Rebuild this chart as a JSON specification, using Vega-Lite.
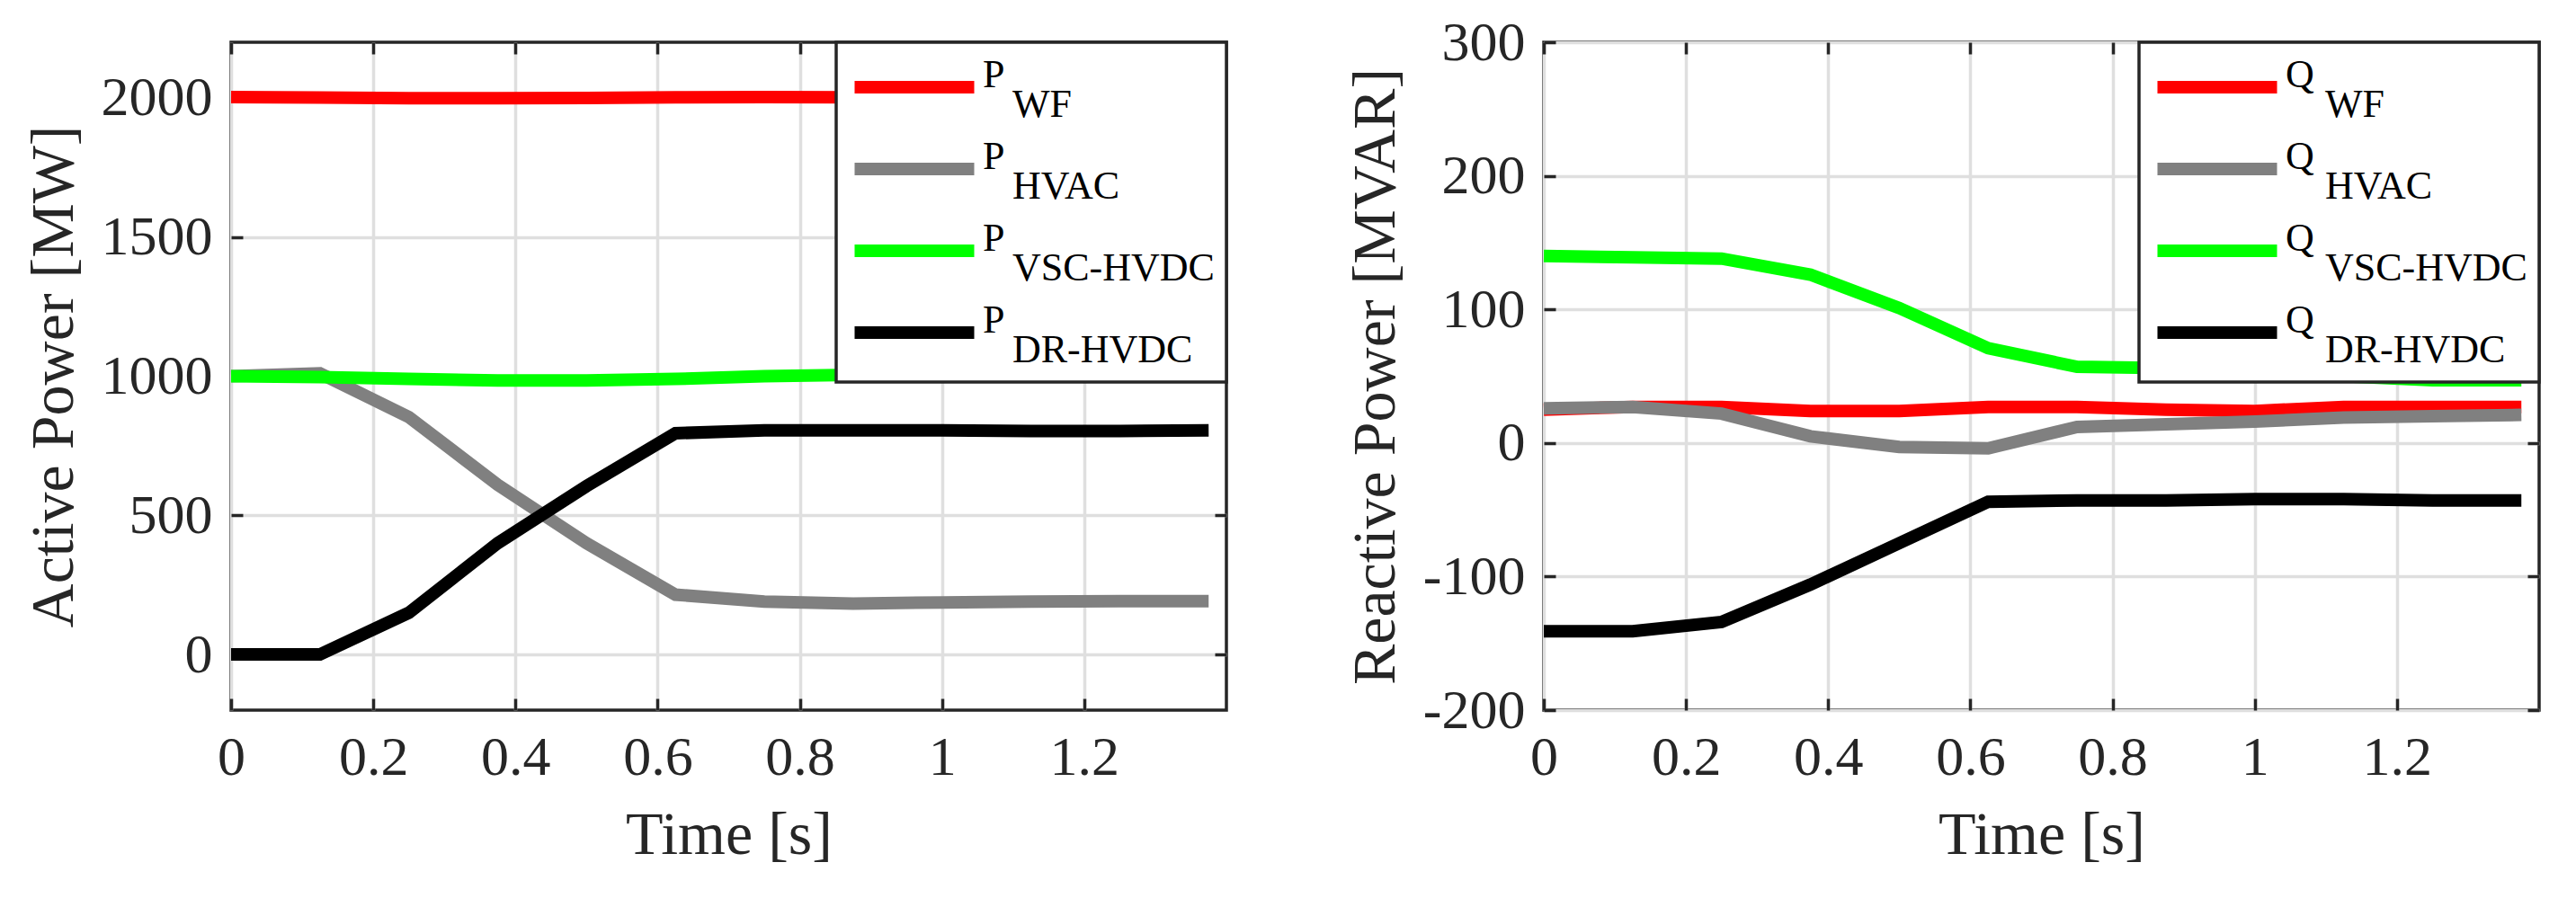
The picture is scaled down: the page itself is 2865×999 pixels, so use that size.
{
  "$schema": "https://vega.github.io/schema/vega-lite/v6.json",
  "background": "white",
  "padding": {"left": 24, "top": 14, "right": 0, "bottom": 0},
  "config": {
    "font": "Liberation Serif",
    "view": {"stroke": "#262626", "strokeWidth": 3.5},
    "axis": {
      "labelFont": "Liberation Serif",
      "labelFontSize": 62,
      "labelColor": "#262626",
      "labelFlush": false,
      "labelOverlap": false,
      "titleFont": "Liberation Serif",
      "titleFontSize": 68,
      "titleFontWeight": "normal",
      "titleColor": "#262626",
      "domain": false,
      "tickColor": "#262626",
      "tickWidth": 3.5,
      "tickSize": -13,
      "gridColor": "#dfdfdf",
      "gridWidth": 3.5,
      "gridOpacity": 1
    },
    "axisX": {"labelPadding": 35, "titlePadding": 22},
    "axisY": {"labelPadding": 34, "titlePadding": 18},
    "legend": {
      "orient": "top-right",
      "offset": 0,
      "padding": 13,
      "fillColor": "white",
      "strokeColor": "#262626",
      "strokeWidth": 3.5,
      "symbolType": "M-2.217,0H2.217",
      "symbolSize": 3600,
      "symbolStrokeWidth": 14,
      "symbolOpacity": 1,
      "symbolOffset": 37,
      "labelFont": "Liberation Serif",
      "labelFontSize": 44,
      "labelColor": "black",
      "labelOffset": 39,
      "labelLimit": 0,
      "labelBaseline": "alphabetic",
      "rowPadding": 12
    }
  },
  "datasets": {
    "active": [
      {"t": 0, "v": 2003, "s": "P_WF"},
      {"t": 0.125, "v": 2001, "s": "P_WF"},
      {"t": 0.25, "v": 1999, "s": "P_WF"},
      {"t": 0.375, "v": 1999, "s": "P_WF"},
      {"t": 0.5, "v": 2000, "s": "P_WF"},
      {"t": 0.625, "v": 2002, "s": "P_WF"},
      {"t": 0.75, "v": 2003, "s": "P_WF"},
      {"t": 0.875, "v": 2002, "s": "P_WF"},
      {"t": 1, "v": 2001, "s": "P_WF"},
      {"t": 1.125, "v": 2001, "s": "P_WF"},
      {"t": 1.25, "v": 2002, "s": "P_WF"},
      {"t": 1.375, "v": 2001, "s": "P_WF"},
      {"t": 0, "v": 1000, "s": "P_HVAC"},
      {"t": 0.125, "v": 1010, "s": "P_HVAC"},
      {"t": 0.25, "v": 853, "s": "P_HVAC"},
      {"t": 0.375, "v": 610, "s": "P_HVAC"},
      {"t": 0.5, "v": 400, "s": "P_HVAC"},
      {"t": 0.625, "v": 215, "s": "P_HVAC"},
      {"t": 0.75, "v": 190, "s": "P_HVAC"},
      {"t": 0.875, "v": 183, "s": "P_HVAC"},
      {"t": 1, "v": 187, "s": "P_HVAC"},
      {"t": 1.125, "v": 190, "s": "P_HVAC"},
      {"t": 1.25, "v": 192, "s": "P_HVAC"},
      {"t": 1.375, "v": 192, "s": "P_HVAC"},
      {"t": 0, "v": 1000, "s": "P_VSC-HVDC"},
      {"t": 0.125, "v": 997, "s": "P_VSC-HVDC"},
      {"t": 0.25, "v": 990, "s": "P_VSC-HVDC"},
      {"t": 0.375, "v": 985, "s": "P_VSC-HVDC"},
      {"t": 0.5, "v": 985, "s": "P_VSC-HVDC"},
      {"t": 0.625, "v": 990, "s": "P_VSC-HVDC"},
      {"t": 0.75, "v": 1000, "s": "P_VSC-HVDC"},
      {"t": 0.875, "v": 1005, "s": "P_VSC-HVDC"},
      {"t": 1, "v": 1008, "s": "P_VSC-HVDC"},
      {"t": 1.125, "v": 1010, "s": "P_VSC-HVDC"},
      {"t": 1.25, "v": 1010, "s": "P_VSC-HVDC"},
      {"t": 1.375, "v": 1010, "s": "P_VSC-HVDC"},
      {"t": 0, "v": 0, "s": "P_DR-HVDC"},
      {"t": 0.125, "v": 0, "s": "P_DR-HVDC"},
      {"t": 0.25, "v": 150, "s": "P_DR-HVDC"},
      {"t": 0.375, "v": 400, "s": "P_DR-HVDC"},
      {"t": 0.5, "v": 605, "s": "P_DR-HVDC"},
      {"t": 0.625, "v": 795, "s": "P_DR-HVDC"},
      {"t": 0.75, "v": 805, "s": "P_DR-HVDC"},
      {"t": 0.875, "v": 805, "s": "P_DR-HVDC"},
      {"t": 1, "v": 805, "s": "P_DR-HVDC"},
      {"t": 1.125, "v": 803, "s": "P_DR-HVDC"},
      {"t": 1.25, "v": 803, "s": "P_DR-HVDC"},
      {"t": 1.375, "v": 805, "s": "P_DR-HVDC"}
    ],
    "reactive": [
      {"t": 0, "v": 25, "s": "Q_WF"},
      {"t": 0.125, "v": 27, "s": "Q_WF"},
      {"t": 0.25, "v": 27, "s": "Q_WF"},
      {"t": 0.375, "v": 24, "s": "Q_WF"},
      {"t": 0.5, "v": 24, "s": "Q_WF"},
      {"t": 0.625, "v": 27, "s": "Q_WF"},
      {"t": 0.75, "v": 27, "s": "Q_WF"},
      {"t": 0.875, "v": 25, "s": "Q_WF"},
      {"t": 1, "v": 24, "s": "Q_WF"},
      {"t": 1.125, "v": 27, "s": "Q_WF"},
      {"t": 1.25, "v": 27, "s": "Q_WF"},
      {"t": 1.375, "v": 27, "s": "Q_WF"},
      {"t": 0, "v": 26, "s": "Q_HVAC"},
      {"t": 0.125, "v": 27, "s": "Q_HVAC"},
      {"t": 0.25, "v": 22, "s": "Q_HVAC"},
      {"t": 0.375, "v": 5, "s": "Q_HVAC"},
      {"t": 0.5, "v": -3, "s": "Q_HVAC"},
      {"t": 0.625, "v": -4, "s": "Q_HVAC"},
      {"t": 0.75, "v": 12, "s": "Q_HVAC"},
      {"t": 0.875, "v": 14, "s": "Q_HVAC"},
      {"t": 1, "v": 16, "s": "Q_HVAC"},
      {"t": 1.125, "v": 19, "s": "Q_HVAC"},
      {"t": 1.25, "v": 20, "s": "Q_HVAC"},
      {"t": 1.375, "v": 21, "s": "Q_HVAC"},
      {"t": 0, "v": 140, "s": "Q_VSC-HVDC"},
      {"t": 0.125, "v": 139, "s": "Q_VSC-HVDC"},
      {"t": 0.25, "v": 138, "s": "Q_VSC-HVDC"},
      {"t": 0.375, "v": 126, "s": "Q_VSC-HVDC"},
      {"t": 0.5, "v": 101, "s": "Q_VSC-HVDC"},
      {"t": 0.625, "v": 71, "s": "Q_VSC-HVDC"},
      {"t": 0.75, "v": 57, "s": "Q_VSC-HVDC"},
      {"t": 0.875, "v": 56, "s": "Q_VSC-HVDC"},
      {"t": 1, "v": 53, "s": "Q_VSC-HVDC"},
      {"t": 1.125, "v": 50, "s": "Q_VSC-HVDC"},
      {"t": 1.25, "v": 47, "s": "Q_VSC-HVDC"},
      {"t": 1.375, "v": 47, "s": "Q_VSC-HVDC"},
      {"t": 0, "v": -141, "s": "Q_DR-HVDC"},
      {"t": 0.125, "v": -141, "s": "Q_DR-HVDC"},
      {"t": 0.25, "v": -134, "s": "Q_DR-HVDC"},
      {"t": 0.375, "v": -106, "s": "Q_DR-HVDC"},
      {"t": 0.5, "v": -75, "s": "Q_DR-HVDC"},
      {"t": 0.625, "v": -44, "s": "Q_DR-HVDC"},
      {"t": 0.75, "v": -43, "s": "Q_DR-HVDC"},
      {"t": 0.875, "v": -43, "s": "Q_DR-HVDC"},
      {"t": 1, "v": -42, "s": "Q_DR-HVDC"},
      {"t": 1.125, "v": -42, "s": "Q_DR-HVDC"},
      {"t": 1.25, "v": -43, "s": "Q_DR-HVDC"},
      {"t": 1.375, "v": -43, "s": "Q_DR-HVDC"}
    ]
  },
  "bounds": "flush",
  "spacing": 353,
  "resolve": {"scale": {"color": "independent"}, "legend": {"color": "independent"}},
  "hconcat": [
    {
      "width": 1107,
      "height": 743,
      "data": {"name": "active"},
      "layer": [
        {
          "mark": {"type": "line", "strokeWidth": 14},
          "encoding": {
            "x": {
              "field": "t",
              "type": "quantitative",
              "scale": {"domain": [0, 1.4], "nice": false, "zero": false},
              "axis": {"title": "Time [s]", "values": [0, 0.2, 0.4, 0.6, 0.8, 1, 1.2], "labelExpr": "format(datum.value, '~g')"}
            },
            "y": {
              "field": "v",
              "type": "quantitative",
              "scale": {"domain": [-200, 2200], "nice": false, "zero": false},
              "axis": {"title": "Active Power [MW]", "values": [0, 500, 1000, 1500, 2000], "labelExpr": "'' + datum.value"}
            },
            "color": {
              "field": "s",
              "type": "nominal",
              "scale": {
                "domain": ["P_WF", "P_HVAC", "P_VSC-HVDC", "P_DR-HVDC"],
                "range": ["#ff0000", "#808080", "#00ff00", "#000000"]
              },
              "legend": {
                "title": null,
                "labelExpr": "[slice(datum.label, 0, 1), '\u200b\u00a0\u00a0\u00a0' + slice(datum.label, 2)]",
                "encode": {"labels": {"update": {"lineHeight": {"value": 33}}}}
              }
            }
          }
        },
        {
          "mark": {"type": "point", "opacity": 0},
          "encoding": {
            "x": {"field": "t", "type": "quantitative", "axis": {"orient": "top", "title": null, "labels": false, "grid": false, "values": [0, 0.2, 0.4, 0.6, 0.8, 1, 1.2]}},
            "y": {"field": "v", "type": "quantitative", "axis": {"orient": "right", "title": null, "labels": false, "grid": false, "values": [0, 500, 1000, 1500, 2000]}}
          }
        }
      ],
      "resolve": {"axis": {"x": "independent", "y": "independent"}}
    },
    {
      "width": 1107,
      "height": 743,
      "data": {"name": "reactive"},
      "layer": [
        {
          "mark": {"type": "line", "strokeWidth": 14},
          "encoding": {
            "x": {
              "field": "t",
              "type": "quantitative",
              "scale": {"domain": [0, 1.4], "nice": false, "zero": false},
              "axis": {"title": "Time [s]", "values": [0, 0.2, 0.4, 0.6, 0.8, 1, 1.2], "labelExpr": "format(datum.value, '~g')"}
            },
            "y": {
              "field": "v",
              "type": "quantitative",
              "scale": {"domain": [-200, 300], "nice": false, "zero": false},
              "axis": {"title": "Reactive Power [MVAR]", "values": [-200, -100, 0, 100, 200, 300], "labelExpr": "'' + datum.value"}
            },
            "color": {
              "field": "s",
              "type": "nominal",
              "scale": {
                "domain": ["Q_WF", "Q_HVAC", "Q_VSC-HVDC", "Q_DR-HVDC"],
                "range": ["#ff0000", "#808080", "#00ff00", "#000000"]
              },
              "legend": {
                "title": null,
                "labelExpr": "[slice(datum.label, 0, 1), '\u200b\u00a0\u00a0\u00a0\u00a0' + slice(datum.label, 2)]",
                "encode": {"labels": {"update": {"lineHeight": {"value": 33}}}}
              }
            }
          }
        },
        {
          "mark": {"type": "point", "opacity": 0},
          "encoding": {
            "x": {"field": "t", "type": "quantitative", "axis": {"orient": "top", "title": null, "labels": false, "grid": false, "values": [0, 0.2, 0.4, 0.6, 0.8, 1, 1.2]}},
            "y": {"field": "v", "type": "quantitative", "axis": {"orient": "right", "title": null, "labels": false, "grid": false, "values": [-200, -100, 0, 100, 200, 300]}}
          }
        }
      ],
      "resolve": {"axis": {"x": "independent", "y": "independent"}}
    }
  ]
}
